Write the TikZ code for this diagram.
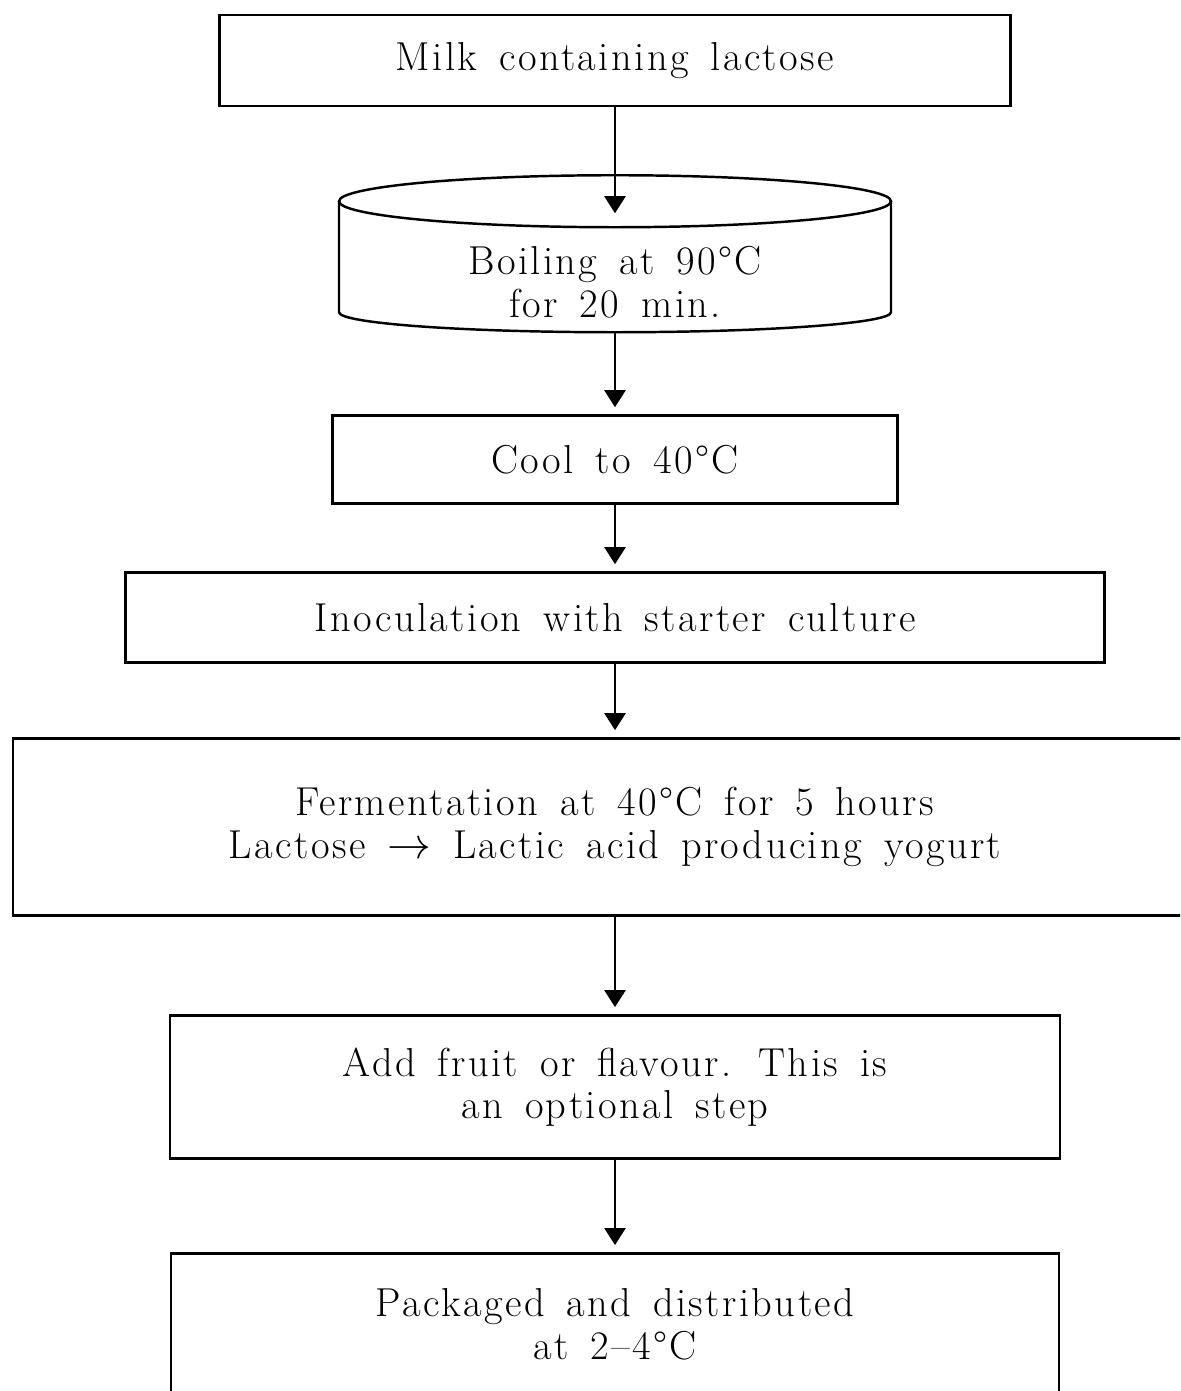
\documentclass[tikz,border=0pt]{standalone}
\usepackage{fontspec}
\usepackage{tikz}
\usetikzlibrary{positioning,arrows.meta}
\newfontfamily\flowfam{Latin Modern Roman}[LetterSpace=6,WordSpace=1.5]
\newcommand{\flowfont}{\flowfam\fontsize{23}{24}\selectfont}

\begin{document}
\begin{tikzpicture}[
    node distance=1.4cm,
    box/.style={draw,line width=1.4pt,minimum width=#1,inner sep=0pt,
                align=center,font=\flowfont},
    tank/.style={minimum width=11.04cm,minimum height=3.14cm,inner sep=0pt,outer sep=0pt,
                 text height=2.55cm,align=center,font=\flowfont},
    arrow/.style={-{Triangle[length=0.34cm,width=0.42cm]},line width=1.4pt,shorten >=0.14cm}
  ]
    \clip (0,0) rectangle (23.6,-27.82);
    \node[box=15.82cm,minimum height=1.82cm] (m) at (12.3,-1.21) {Milk containing lactose};
    \node[tank,below=1.36cm of m] (b) {Boiling at 90\textdegree C\\for 20 min.};
    % drum outline round the boiling step
    \draw[line width=1.4pt] ([yshift=-0.52cm]b.north) ellipse [x radius=5.52cm,y radius=0.52cm];
    \draw[line width=1.4pt] ([yshift=-0.52cm]b.north west) -- ([yshift=0.4cm]b.south west)
      arc[start angle=180,end angle=360,x radius=5.52cm,y radius=0.4cm] -- ([yshift=-0.52cm]b.north east);
    \coordinate[below=0.76cm of b.north] (bt);
    \node[box=11.3cm,minimum height=1.76cm,below=1.64cm of b] (c) {Cool to 40\textdegree C};
    \node[box=19.58cm,minimum height=1.8cm,below=1.33cm of c] (i) {Inoculation with starter culture};
    \node[box=24.08cm,minimum height=3.54cm,below=1.47cm of i] (f) {Fermentation at 40\textdegree C for 5 hours\\Lactose $\rightarrow$ Lactic acid producing yogurt};
    \node[box=17.8cm,minimum height=2.86cm,below=1.95cm of f] (a) {Add fruit or flavour. This is\\an optional step};
    \node[box=17.76cm,minimum height=2.84cm,below=1.85cm of a] (p) {Packaged and distributed\\at 2\textendash 4\textdegree C};
    \draw[arrow,shorten >=0pt] (m)--(bt); \draw[arrow] (b)--(c); \draw[arrow] (c)--(i);
    \draw[arrow] (i)--(f); \draw[arrow] (f)--(a); \draw[arrow] (a)--(p);
  \end{tikzpicture}
\end{document}
